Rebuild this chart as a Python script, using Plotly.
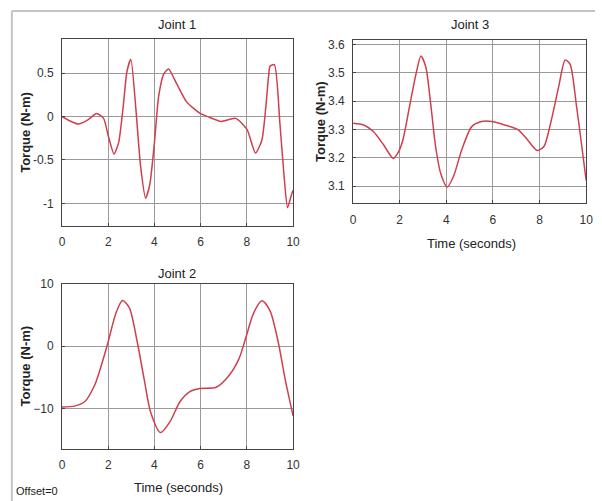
import plotly.graph_objects as go

W, H = 602, 501

# ---- data ----
t1 = [0, 0.35, 0.71, 1.1, 1.5, 1.8, 2.0, 2.25, 2.45, 2.65, 2.81, 2.98, 3.19, 3.4, 3.62, 3.8, 4.0, 4.18,
      4.4, 4.61, 4.96, 5.39, 5.96, 6.4, 6.88, 7.52, 8.01, 8.37, 8.65, 8.94, 9.0, 9.19, 9.43, 9.62, 9.76, 9.93, 10.0]
j1 = [0, -0.05, -0.085, -0.04, 0.035, -0.02, -0.22, -0.43, -0.3, 0.12, 0.52, 0.66, 0.11, -0.57, -0.94, -0.78, -0.3,
      0.23, 0.49, 0.55, 0.38, 0.17, 0.04, -0.01, -0.055, -0.02, -0.15, -0.42, -0.27, 0.47, 0.58, 0.6, -0.08,
      -0.72, -1.05, -0.9, -0.85]

t2 = [0, 0.57, 0.99, 1.42, 1.70, 1.99, 2.34, 2.62, 2.91, 3.26, 3.55, 3.85, 4.26, 4.68, 5.11, 5.53, 5.96,
      6.67, 7.23, 7.66, 7.94, 8.3, 8.65, 9.0, 9.36, 9.65, 10.0]
j2 = [-9.8, -9.6, -8.9, -6.2, -3.1, 0.6, 5.4, 7.35, 6.2, 0.6, -5.2, -10.8, -13.9, -12.1, -8.9, -7.3, -6.8,
      -6.6, -4.7, -2.0, 1.2, 5.4, 7.3, 5.7, 0.6, -5.2, -11.2]

t3 = [0, 0.45, 0.87, 1.3, 1.72, 1.93, 2.14, 2.42, 2.7, 2.91, 3.12, 3.33, 3.54, 3.76, 4.04, 4.32, 4.67, 5.09,
      5.51, 5.94, 6.5, 7.06, 7.48, 7.9, 8.19, 8.47, 8.82, 9.1, 9.31, 9.59, 10.0]
j3 = [3.322, 3.316, 3.293, 3.247, 3.198, 3.218, 3.264, 3.38, 3.496, 3.559, 3.52, 3.39, 3.24, 3.145, 3.097,
      3.137, 3.23, 3.31, 3.328, 3.328, 3.316, 3.3, 3.264, 3.226, 3.24, 3.32, 3.45, 3.545, 3.53, 3.38, 3.12]

xticks = [0, 2, 4, 6, 8, 10]
y1ticks = [-1, -0.5, 0, 0.5]
y2ticks = [-10, 0, 10]
y3ticks = [3.1, 3.2, 3.3, 3.4, 3.5, 3.6]

titles = ["Joint 1", "Joint 2", "Joint 3"]
ylabel = "Torque (N-m)"
xlabel = "Time (seconds)"

LINE = "#cf3f4f"
FONT = "Liberation Sans, Arial, sans-serif"

def px_x(p):
    return p / W

def px_y(p):
    return 1 - p / H

fig = go.Figure()
fig.add_trace(go.Scatter(x=t1, y=j1, xaxis="x", yaxis="y", mode="lines",
                         line=dict(color=LINE, width=1.5, shape="spline", smoothing=0.6)))
fig.add_trace(go.Scatter(x=t2, y=j2, xaxis="x2", yaxis="y2", mode="lines",
                         line=dict(color=LINE, width=1.5, shape="spline", smoothing=0.8)))
fig.add_trace(go.Scatter(x=t3, y=j3, xaxis="x3", yaxis="y3", mode="lines",
                         line=dict(color=LINE, width=1.5, shape="spline", smoothing=0.7)))

common = dict(showline=True, mirror=True, linecolor="#444", linewidth=1,
              showgrid=True, gridcolor="#9a9a9a", gridwidth=1, zeroline=False,
              ticks="inside", ticklen=3, tickcolor="#444",
              tickfont=dict(family=FONT, size=12, color="#333"), ticklabelstandoff=5)

# panel boxes (pixels: left, right, top, bottom)
p1 = (60, 295, 32, 222)
p2 = (60, 295, 281, 448)
p3 = (356, 593, 33, 199)

def dom(p):
    return [px_x(p[0]), px_x(p[1])], [px_y(p[3]), px_y(p[2])]

d1x, d1y = dom(p1)
d2x, d2y = dom(p2)
d3x, d3y = dom(p3)

fig.update_layout(
    width=W, height=H, margin=dict(l=0, r=0, t=0, b=0),
    paper_bgcolor="white", plot_bgcolor="white", showlegend=False,
    xaxis=dict(domain=d1x, anchor="y", range=[0, 10], tickvals=xticks, **common),
    yaxis=dict(domain=d1y, anchor="x", range=[-1.26, 0.9], tickvals=y1ticks,
               ticktext=["-1", "-0.5", "0", "0.5"], **common),
    xaxis2=dict(domain=d2x, anchor="y2", range=[0, 10], tickvals=xticks, **common),
    yaxis2=dict(domain=d2y, anchor="x2", range=[-16.5, 10], tickvals=y2ticks, **common),
    xaxis3=dict(domain=d3x, anchor="y3", range=[0, 10], tickvals=xticks, **common),
    yaxis3=dict(domain=d3y, anchor="x3", range=[3.04, 3.617], tickvals=y3ticks, **common),
)

ann = []
def text(x, y, s, size=13, bold=False, angle=0, xanchor="center"):
    ann.append(dict(x=px_x(x), y=px_y(y), xref="paper", yref="paper", text=("<b>%s</b>" % s) if bold else s,
                    showarrow=False, textangle=angle, xanchor=xanchor, yanchor="middle",
                    font=dict(family=FONT, size=size, color="#222")))

text(177, 18, titles[0])
text(177, 270, titles[1])
text(475, 18, titles[2])
text(23, 127, ylabel, bold=True, angle=-90)
text(23, 364, ylabel, bold=True, angle=-90)
text(323, 116, ylabel, bold=True, angle=-90)
text(476, 240, xlabel)
text(178, 487, xlabel)
text(11, 491, "Offset=0", size=11, xanchor="left")
fig.update_layout(annotations=ann)

fig.add_shape(type="line", xref="paper", yref="paper", x0=px_x(9), x1=1, y0=px_y(4), y1=px_y(4),
              line=dict(color="#c4c4c4", width=2))
fig.add_shape(type="line", xref="paper", yref="paper", x0=px_x(9), x1=px_x(9), y0=px_y(4), y1=0,
              line=dict(color="#c4c4c4", width=2))

fig.write_html("out.html", config={"displayModeBar": False},
               post_script="document.body.style.margin='0';document.body.style.overflow='hidden';")
